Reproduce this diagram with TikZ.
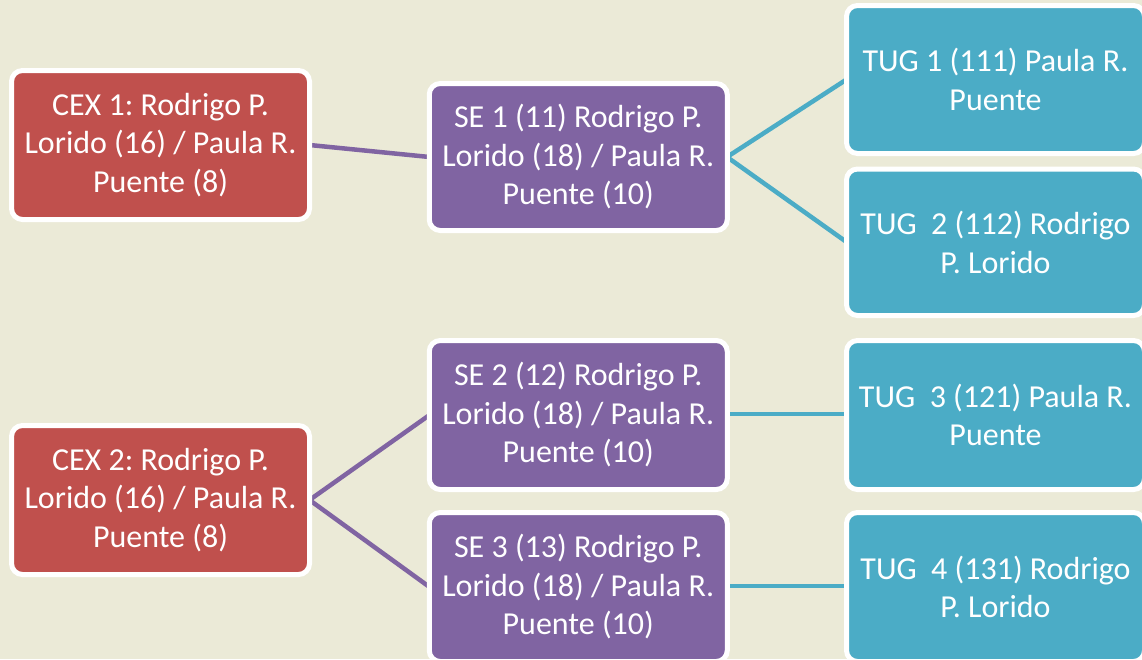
\documentclass[tikz,border=0pt]{standalone}
\usepackage{fontspec}
\setmainfont{Carlito}
\frenchspacing
\definecolor{bgc}{HTML}{EBEAD7}
\definecolor{cexc}{HTML}{C0504D}
\definecolor{sec}{HTML}{8064A2}
\definecolor{tugc}{HTML}{4BACC6}
\begin{document}
\begin{tikzpicture}[x=1pt,y=-1pt,
  boxbase/.style={draw=white, line width=5pt, rounded corners=11pt, minimum width=298pt, minimum height=148pt,
    inner sep=0pt, align=center, text=white, font=\fontsize{32}{38.5}\selectfont\frenchspacing},
  cexbox/.style={boxbase, fill=cexc},
  sebox/.style={boxbase, fill=sec},
  tugbox/.style={boxbase, fill=tugc},
  selink/.style={draw=sec, line width=4.5pt},
  tuglink/.style={draw=tugc, line width=4.5pt}]
\fill[bgc] (0,0) rectangle (1142,659);
\clip (0,0) rectangle (1142,659);
\useasboundingbox (0,0) rectangle (1142,659);
% links first
\coordinate (c1e) at (309.5,145);
\coordinate (c2e) at (309.5,500);
\coordinate (s1w) at (429.5,157);
\coordinate (s2w) at (429.5,415);
\coordinate (s3w) at (429.5,587);
\coordinate (s1e) at (727,157);
\coordinate (s2e) at (727,414);
\coordinate (s3e) at (727,586);
\coordinate (t1w) at (846.5,79.5);
\coordinate (t2w) at (846.5,242);
\coordinate (t3w) at (846.5,414);
\coordinate (t4w) at (846.5,586);
\draw[selink] (c1e) -- (s1w);
\draw[selink] (s2w) -- (c2e) -- (s3w);
\draw[tuglink] (t1w) -- (s1e) -- (t2w);
\draw[tuglink] (s2e) -- (t3w);
\draw[tuglink] (s3e) -- (t4w);
% nodes
\node[cexbox, minimum height=149pt] (cex1) at (160.5,145) {CEX 1: Rodrigo P.\\Lorido (16) / Paula R.\\Puente (8)};
\node[cexbox, minimum height=149pt] (cex2) at (160.5,500) {CEX 2: Rodrigo P.\\Lorido (16) / Paula R.\\Puente (8)};
\node[sebox, minimum height=147pt] (se1) at (578.25,157) {SE 1 (11) Rodrigo P.\\Lorido (18) / Paula R.\\Puente (10)};
\node[sebox, minimum height=149pt] (se2) at (578.25,415) {SE 2 (12) Rodrigo P.\\Lorido (18) / Paula R.\\Puente (10)};
\node[sebox, minimum height=149pt] (se3) at (578.25,587) {SE 3 (13) Rodrigo P.\\Lorido (18) / Paula R.\\Puente (10)};
\node[tugbox] (tug1) at (995.5,79.5) {TUG 1 (111) Paula R.\\Puente};
\node[tugbox, minimum height=146.5pt] (tug2) at (995.5,242.25) {TUG\ \ 2 (112) Rodrigo\\P. Lorido};
\node[tugbox, minimum height=149pt] (tug3) at (995.5,415) {TUG\ \ 3 (121) Paula R.\\Puente};
\node[tugbox, minimum height=149pt] (tug4) at (995.5,587) {TUG\ \ 4 (131) Rodrigo\\P. Lorido};
\end{tikzpicture}
\end{document}
